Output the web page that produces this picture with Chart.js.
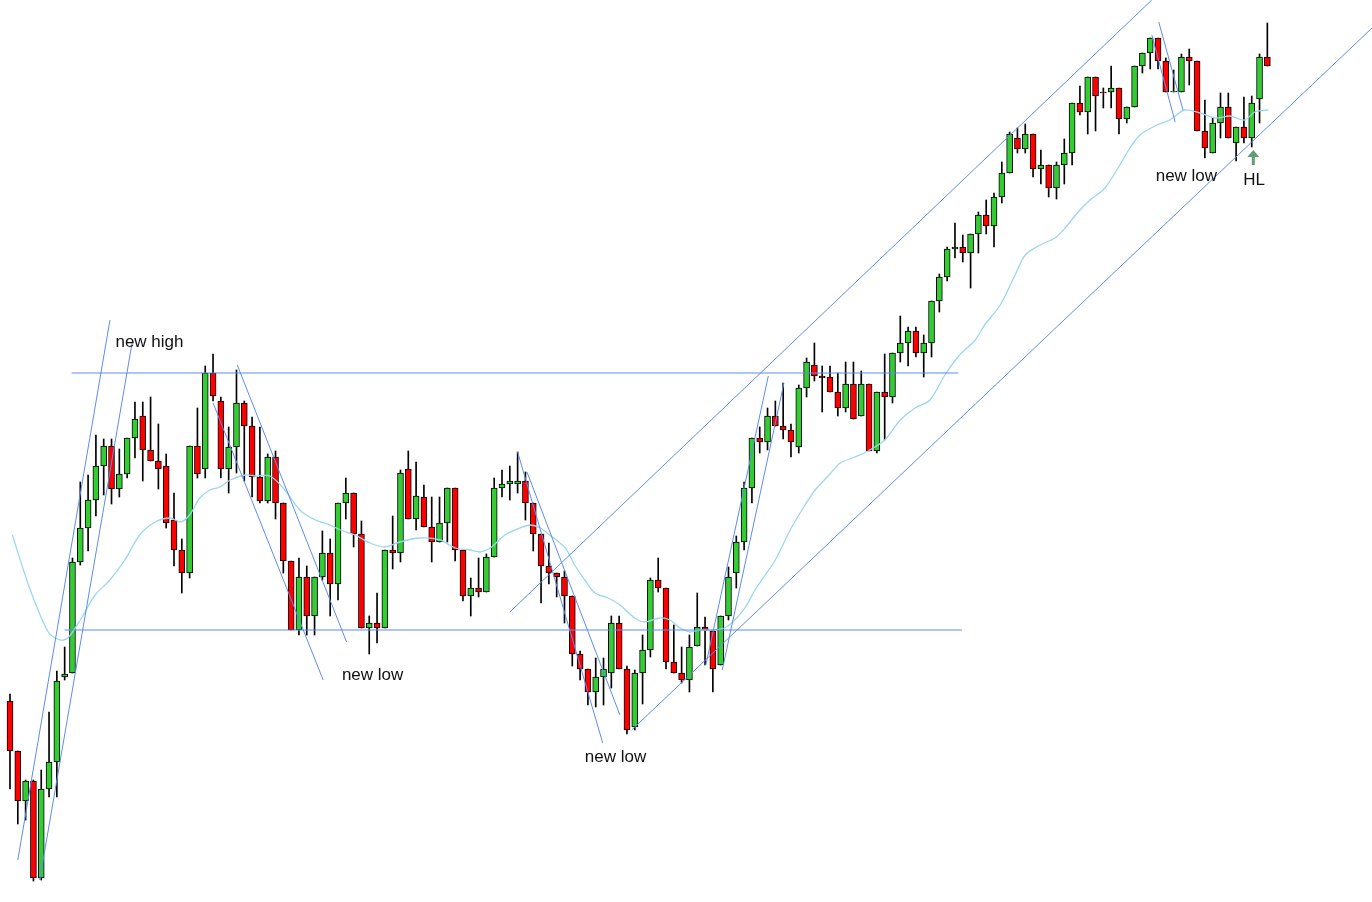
<!DOCTYPE html>
<html>
<head>
<meta charset="utf-8">
<script src="https://cdn.jsdelivr.net/npm/chart.js"></script>
<style>
  html, body { margin: 0; padding: 0; background: #fff; overflow: hidden; }
</style>
</head>
<body>
<canvas id="myChart" width="1372" height="902"></canvas>
<script>
// price levels (axis is drawn reversed, small = high)
var opens  = [701,751,801,781,878,789,762,677,673,562,528,500,466,446,489,474,438,416,450,461,466,520,550,573,446,469,373,401,469,447,403,426,477,501,457,503,561,630,577,616,577,553,584,503,493,534,628,623,628,550,553,469,519,497,527,542,523,488,550,596,588,592,557,488,484,484,481,503,534,566,573,577,596,654,669,692,677,673,623,669,727,673,650,580,588,662,673,680,646,627,631,665,616,573,542,488,438,442,416,426,430,447,388,365,376,377,392,408,384,416,384,451,392,397,353,343,331,353,343,301,277,249,247,253,234,215,226,197,173,138,149,134,169,165,188,165,153,103,112,77,92,92,88,119,107,66,53,38,61,92,92,57,61,131,153,123,107,143,127,138,99,57];
var closes = [751,801,781,878,789,762,681,674,562,528,500,466,446,489,474,438,419,450,461,469,523,550,573,446,474,373,396,469,447,403,426,477,501,457,503,561,630,577,616,577,553,584,503,493,534,628,623,628,550,553,473,519,496,527,542,523,488,550,596,588,592,557,488,484,481,481,503,534,566,573,577,596,654,669,692,677,669,623,669,730,673,650,580,588,662,673,680,647,627,630,669,616,577,542,488,438,442,416,426,430,442,388,362,376,378,392,408,384,419,384,451,392,397,353,343,331,353,343,301,277,249,247,253,234,215,226,197,173,134,149,134,169,165,188,165,153,103,112,77,96,93,88,119,107,66,53,38,61,92,91,57,61,131,148,123,107,138,127,138,103,57,66];
var highs  = [694,751,780,780,770,712,671,647,558,482,475,435,439,439,449,438,402,402,397,424,454,493,539,446,408,366,354,397,427,370,401,417,427,454,451,503,561,558,566,577,531,539,503,478,493,521,616,593,550,516,470,451,462,485,497,497,488,488,550,578,558,554,478,470,466,452,472,503,534,543,573,571,596,651,669,658,658,616,616,666,670,635,578,558,588,625,647,635,593,617,631,616,567,536,482,438,427,408,401,383,424,385,358,343,366,366,373,362,362,371,384,392,354,353,316,327,327,335,301,274,247,223,235,234,212,200,193,162,132,128,124,134,150,165,162,139,103,86,77,77,88,66,88,107,66,53,38,38,58,70,54,49,61,100,118,93,93,127,97,96,54,23];
var lows   = [789,824,820,881,880,797,797,680,673,565,551,516,495,504,497,478,458,481,461,489,528,566,593,578,478,478,401,478,493,473,481,497,503,503,519,573,630,635,635,635,580,616,600,519,547,628,654,643,628,569,562,519,530,527,562,542,542,561,601,616,597,592,557,497,500,493,520,551,603,584,597,623,666,680,705,707,705,688,669,734,730,704,657,592,669,673,683,692,646,665,692,665,620,588,550,503,453,450,426,439,457,453,397,381,412,392,416,412,419,416,451,453,440,403,362,366,357,377,357,312,281,258,262,288,253,234,247,203,173,153,153,177,184,197,199,184,165,115,134,131,108,108,134,123,107,73,69,69,92,92,92,85,131,158,153,138,138,161,143,147,123,66];
var green = '#33CC33', red = '#FF0000';

// moving average, sampled at candle positions
var maIdx = [0.3,2.6,4.9,6.4,7.4,9.0,10.9,12.8,14.7,16.6,18.6,20.5,21.8,23.0,24.3,25.6,26.9,28.2,30.1,31.4,33.3,35.2,37.1,39.1,41.0,42.3,44.2,46.1,48.0,49.9,52.5,55.1,57.0,58.9,60.2,61.5,63.4,65.3,66.6,67.9,69.1,71.1,72.3,73.6,74.9,76.6,78.1,80.0,81.3,83.2,84.5,85.8,87.1,88.3,89.9,91.5,92.8,94.1,95.4,96.7,98.0,99.9,101.8,103.1,105.0,106.3,108.2,110.1,112.0,114.0,115.9,117.8,119.7,121.6,123.6,124.8,126.8,128.7,130.0,131.9,133.8,135.1,137.0,138.3,140.2,142.1,143.4,144.7,146.6,148.5,150.4,152.4,154.3,156.2,158.1,159.4,161.1];
var maVal = [535,590,632,640,638,620,595,580,560,535,522,518,522,515,498,490,487,480,475,476,476,490,510,520,525,530,535,543,547,542,538,540,548,550,552,548,535,528,525,528,535,548,565,580,593,598,605,618,622,618,620,628,632,630,630,628,620,608,590,575,560,530,505,490,474,463,457,450,440,420,408,400,375,355,340,325,305,275,255,245,238,228,210,200,188,165,148,135,126,120,110,113,118,116,120,112,110];

// trend lines [x1, y1, x2, y2] in candle index / price
var trendLines = [
  [7.9,373,121.4,373], [7.0,630,121.9,630],
  [1.0,860,12.8,320], [3.8,880,15.7,340],
  [26.0,403,40.1,680], [29.1,365,43.1,642],
  [65.0,452,75.9,743], [66.2,472,78.1,715],
  [64.0,612,146.2,0], [79.6,730,174.4,28],
  [89.1,665,97.1,376], [91.2,670,99.1,383],
  [146.2,35,149.2,122], [147.1,22,150.2,110]
];
var labelsTxt = ['new high','new low','new low','new low','HL'];
var labelIdx  = [13.5,42.5,73.6,146.7,157.9];
var labelVal  = [342,675,757,176,180];

var ctx = document.getElementById('myChart').getContext('2d');

var wick = [], body = [], bodyCol = [];
for (var i = 0; i < opens.length; i++) {
  wick.push({x: i, y: [highs[i], lows[i]]});
  var a = opens[i], b = closes[i];
  if (Math.abs(a - b) < 1) { a = a - 0.5; b = b + 0.5; }
  body.push({x: i, y: [a, b]});
  bodyCol.push(closes[i] <= opens[i] ? green : red);
}

var datasets = [
  { type: 'bar', data: wick, backgroundColor: '#000', borderWidth: 0, barThickness: 1, grouped: false, order: 3 },
  { type: 'bar', data: body, backgroundColor: bodyCol, borderColor: '#000', borderWidth: 1, borderSkipped: false, barThickness: 6, grouped: false, order: 2 },
  { type: 'line', data: maIdx.map(function (x, k) { return {x: x, y: maVal[k]}; }), borderColor: '#9BD6F0', borderWidth: 1.3, pointRadius: 0, tension: 0.3, order: 1 }
];
trendLines.forEach(function (t) {
  datasets.push({ type: 'line', data: [{x: t[0], y: t[1]}, {x: t[2], y: t[3]}], borderColor: '#5B8DEF', borderWidth: 1, pointRadius: 0, order: 0 });
});

var notes = {
  id: 'notes',
  afterDatasetsDraw: function (chart) {
    var c = chart.ctx, xs = chart.scales.x, ys = chart.scales.y;
    c.save();
    c.fillStyle = '#111';
    c.font = '17px "Liberation Sans", Arial, sans-serif';
    c.textBaseline = 'middle';
    labelsTxt.forEach(function (t, k) {
      c.fillText(t, xs.getPixelForValue(labelIdx[k]), ys.getPixelForValue(labelVal[k]));
    });
    // arrow pointing at the higher low
    var ax = xs.getPixelForValue(159.2), ay = ys.getPixelForValue(150);
    c.strokeStyle = '#5E9E72'; c.fillStyle = '#5E9E72'; c.lineWidth = 3;
    c.beginPath(); c.moveTo(ax, ay + 15); c.lineTo(ax, ay + 5); c.stroke();
    c.beginPath(); c.moveTo(ax - 6, ay + 7); c.lineTo(ax + 6, ay + 7); c.lineTo(ax, ay); c.closePath(); c.fill();
    c.restore();
  }
};

var chart = new Chart(ctx, {
  type: 'bar',
  data: { datasets: datasets },
  options: {
    responsive: false,
    animation: false,
    devicePixelRatio: 1,
    layout: { padding: 0 },
    plugins: { legend: { display: false }, tooltip: { enabled: false } },
    scales: {
      x: { type: 'linear', min: -1.28, max: 174.4, offset: false, display: false },
      y: { min: 0, max: 902, reverse: true, display: false }
    }
  },
  plugins: [notes]
});
</script>
</body>
</html>
